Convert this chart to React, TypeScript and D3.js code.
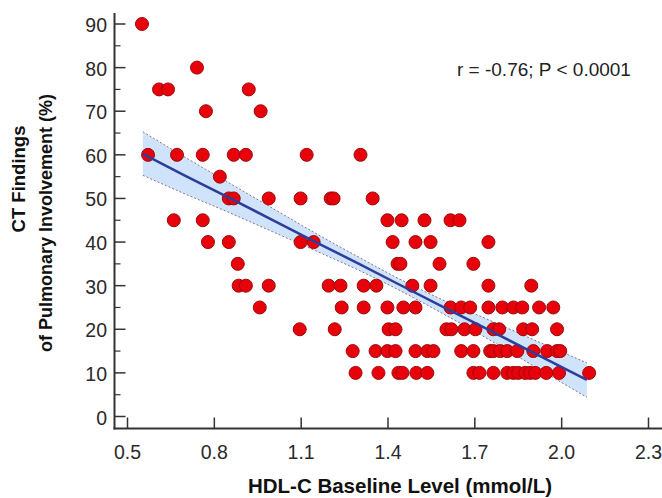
import React from "react";
import * as d3 from "d3";

// Data: HDL-C (mmol/L) and CT involvement (%)
const row90 = [0.55];
const row80 = [0.74];
const row75 = [0.609, 0.64, 0.919];
const row70 = [0.771, 0.96];
const row60 = [0.571, 0.671, 0.76, 0.867, 0.909, 1.119, 1.305];
const row55 = [0.819];
const row50 = [0.85, 0.867, 0.988, 1.098, 1.202, 1.212, 1.347];
const row45 = [0.66, 0.76, 1.398, 1.447, 1.526, 1.616, 1.647];
const row40 = [0.778, 0.85, 1.098, 1.143, 1.416, 1.495, 1.547, 1.747];
const row35 = [0.881, 1.433, 1.443, 1.578, 1.695];
const row30 = [0.884, 0.909, 0.988, 1.195, 1.236, 1.316, 1.36, 1.484, 1.547, 1.747, 1.895];
const row25 = [0.957, 1.24, 1.316, 1.398, 1.453, 1.495, 1.616, 1.653, 1.684, 1.747, 1.795, 1.833, 1.864, 1.922, 1.971];
const row20 = [1.095, 1.216, 1.402, 1.426, 1.602, 1.619, 1.664, 1.702, 1.764, 1.784, 1.867, 1.898, 1.984];
const row15 = [1.278, 1.357, 1.398, 1.426, 1.495, 1.536, 1.557, 1.653, 1.695, 1.753, 1.764, 1.788, 1.812, 1.847, 1.902, 1.95, 1.984, 1.995];
const row10 = [1.288, 1.367, 1.436, 1.45, 1.498, 1.536, 1.695, 1.716, 1.764, 1.812, 1.833, 1.85, 1.874, 1.891, 1.909, 1.947, 1.991, 2.095];

const rows: [number, number[]][] = [
  [90, row90], [80, row80], [75, row75], [70, row70], [60, row60], [55, row55],
  [50, row50], [45, row45], [40, row40], [35, row35], [30, row30], [25, row25],
  [20, row20], [15, row15], [10, row10],
];

// Regression line and 95% confidence band
const bandX = [0.553, 0.7, 0.85, 1.0, 1.15, 1.3, 1.42, 1.6, 1.75, 1.9, 2.087];
const fitY = [60.2, 55.2, 50.2, 45.1, 40.0, 35.0, 30.9, 24.8, 19.8, 14.7, 8.4];
const bandUpper = [65.3, 59.4, 53.6, 47.8, 42.0, 36.5, 32.2, 26.4, 22.1, 17.7, 12.3];
const bandLower = [55.3, 51.0, 46.8, 42.4, 38.0, 33.5, 29.6, 23.2, 17.6, 11.7, 4.4];

const xTicks = [0.5, 0.8, 1.1, 1.4, 1.7, 2.0, 2.3];
const yTicks = [0, 10, 20, 30, 40, 50, 60, 70, 80, 90];
const yMinor = [5, 15, 25, 35, 45, 55, 65, 75, 85];

const annotation = "r = -0.76; P < 0.0001";
const xTitle = "HDL-C Baseline Level (mmol/L)";
const yTitle1 = "CT Findings";
const yTitle2 = "of Pulmonary Involvement (%)";

export default function App() {
  const W = 662, H = 498;
  const x = d3.scaleLinear().domain([0.5, 2.3]).range([127.5, 648.5]);
  const y = d3.scaleLinear().domain([0, 90]).range([416.5, 24]);
  const axisX = 114.5;
  const axisY = 428.5;
  const font = "'Liberation Sans', Arial, sans-serif";

  const pts: { v: number; p: number }[] = [];
  rows.forEach(([p, vs]) => vs.forEach((v) => pts.push({ v, p })));

  const idx = d3.range(bandX.length);
  const area = d3
    .area<number>()
    .x((i) => x(bandX[i]))
    .y0((i) => y(bandLower[i]))
    .y1((i) => y(bandUpper[i]))
    .curve(d3.curveMonotoneX);
  const upper = d3.line<number>().x((i) => x(bandX[i])).y((i) => y(bandUpper[i])).curve(d3.curveMonotoneX);
  const lower = d3.line<number>().x((i) => x(bandX[i])).y((i) => y(bandLower[i])).curve(d3.curveMonotoneX);
  const fit = d3.line<number>().x((i) => x(bandX[i])).y((i) => y(fitY[i]));

  return (
    <svg width={W} height={H} style={{ position: "absolute", left: 0, top: 0, background: "#fff" }} fontFamily={font}>
      <rect width={W} height={H} fill="#fff" />
      {/* confidence band */}
      <path d={area(idx) || ""} fill="#cfe3fb" />
      <path d={upper(idx) || ""} fill="none" stroke="#8c7486" strokeWidth={1} strokeDasharray="2,2" />
      <path d={lower(idx) || ""} fill="none" stroke="#8c7486" strokeWidth={1} strokeDasharray="2,2" />
      {/* points */}
      {pts.map((d, i) => (
        <circle key={i} cx={x(d.v)} cy={y(d.p)} r={6.5} fill="#e8000a" stroke="#9a0a0a" strokeWidth={1} />
      ))}
      {/* fit line */}
      <path d={fit(idx) || ""} fill="none" stroke="#2c3d9c" strokeWidth={2.5} />

      {/* axes */}
      <line x1={axisX} x2={axisX} y1={13} y2={axisY + 1} stroke="#333" strokeWidth={2} />
      <line x1={axisX - 1} x2={W} y1={axisY} y2={axisY} stroke="#333" strokeWidth={2} />
      {yTicks.map((t) => (
        <g key={"y" + t}>
          <line x1={axisX} x2={axisX + 11} y1={y(t)} y2={y(t)} stroke="#333" strokeWidth={1.5} />
          <text x={107} y={y(t) + 1} dy="0.36em" textAnchor="end" fontSize={19.5} fill="#2a2a2a">
            {t}
          </text>
        </g>
      ))}
      {yMinor.map((t) => (
        <line key={"m" + t} x1={axisX} x2={axisX + 6} y1={y(t)} y2={y(t)} stroke="#333" strokeWidth={1.2} />
      ))}
      {xTicks.map((t) => (
        <g key={"x" + t}>
          <line x1={x(t)} x2={x(t)} y1={axisY} y2={axisY - 11} stroke="#333" strokeWidth={1.5} />
          <text x={x(t)} y={459} textAnchor="middle" fontSize={19.5} fill="#2a2a2a">
            {d3.format(".1f")(t)}
          </text>
        </g>
      ))}

      <text x={457} y={76} fontSize={19} fill="#222">
        {annotation}
      </text>
      <text x={400} y={493} textAnchor="middle" fontSize={20.5} fontWeight="bold" fill="#111">
        {xTitle}
      </text>
      <text transform="translate(25,179) rotate(-90)" textAnchor="middle" fontSize={18.5} fontWeight="bold" fill="#111">
        {yTitle1}
      </text>
      <text transform="translate(52,223) rotate(-90)" textAnchor="middle" fontSize={18} fontWeight="bold" fill="#111">
        {yTitle2}
      </text>
    </svg>
  );
}
